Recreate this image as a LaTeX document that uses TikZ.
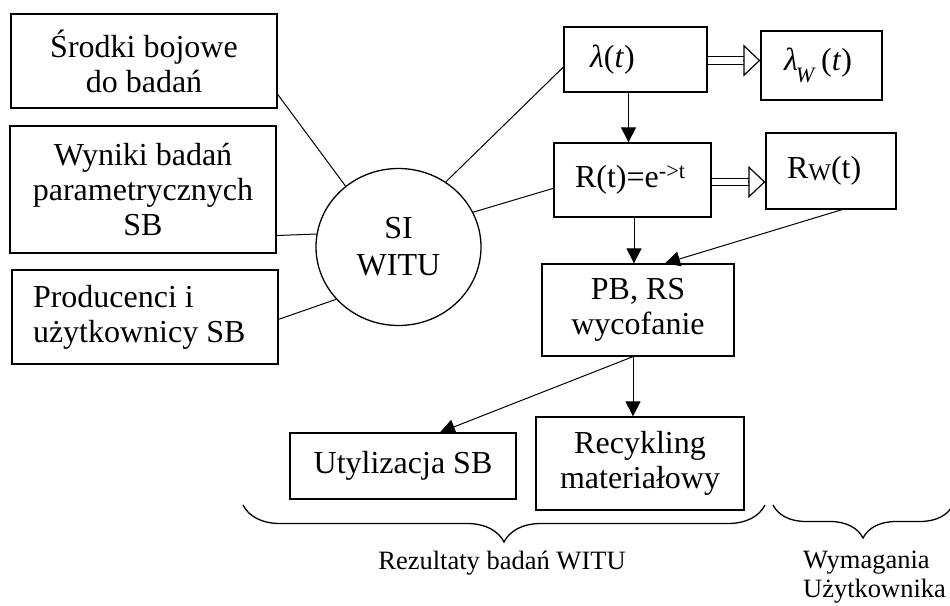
\documentclass[tikz,border=0pt]{standalone}
\usepackage{fontspec}
\setmainfont{Liberation Serif}
\usepackage{tikz}
\usetikzlibrary{shapes.geometric,arrows.meta,decorations.pathreplacing}
\tikzstyle{blok} = [draw,rectangle,line width=1.3pt,inner sep=0pt,align=center,font=\fontsize{32}{35}\selectfont]
\tikzstyle{blokl} = [blok,align=flush left]
\tikzstyle{linia} = [line width=1pt]
\tikzstyle{strzalka} = [line width=1pt,->,>={Triangle[length=15pt,width=15pt]}]
\tikzstyle{podwojna} = [line width=1.2pt,double,double distance=6.5pt,shorten >=16pt]
\tikzstyle{grot} = [line width=1.2pt,-{Triangle[open,length=17pt,width=32pt]}]
\tikzstyle{klamra} = [line width=1.3pt,decorate,decoration={brace,mirror,amplitude=37pt}]
\tikzstyle{opis} = [inner sep=0pt,font=\fontsize{26.5}{29}\selectfont]

\begin{document}
\begin{tikzpicture}[x=1pt,y=-1pt]
                        \useasboundingbox (0,0) rectangle (950,605);
                        % wejscia
                        \node[blok,minimum width=266pt,minimum height=94pt] (srodki) at (144,61) {Środki bojowe\\do badań};
                        \node[blok,minimum width=266pt,minimum height=127pt] (wyniki) at (143,189.5) {Wyniki badań\\parametrycznych\\SB};
                        \node[blokl,minimum width=266pt,minimum height=94pt,text width=224pt,inner xsep=21pt] (producenci) at (145,317) {Producenci i\\użytkownicy SB};
                        \node[draw,ellipse,line width=1.3pt,minimum width=165pt,minimum height=157pt,inner sep=0pt,
                            align=center,font=\fontsize{32}{37}\selectfont] (siwitu) at (398.5,247) {SI\\WITU};
                        % niezawodnosc
                        \node[blokl,minimum width=143pt,minimum height=65pt,text width=91pt,inner xsep=26pt] (lambda) at (635.5,59.5) {\textit{λ}(\textit{t})};
                        \node[blokl,minimum width=121pt,minimum height=69pt,text width=75pt,inner xsep=23pt] (lambdaw) at (821.5,65.5)
                            {\textit{λ}\kern-2pt\raisebox{-12pt}{\fontsize{22}{22}\selectfont\textit{W}}\,(\textit{t})};
                        \node[blokl,minimum width=157pt,minimum height=74pt,text width=115pt,inner xsep=21pt] (rt) at (632.5,180) {R(t)=e\textsuperscript{->t}};
                        \node[blokl,minimum width=130pt,minimum height=76pt,text width=88pt,inner xsep=21pt] (rw) at (831,171)
                            {\raisebox{6pt}{R\raisebox{-1.5pt}{\fontsize{24}{24}\selectfont W}(t)}};
                        % wyniki
                        \node[blok,minimum width=192pt,minimum height=92pt] (pb) at (638,310) {PB, RS\\wycofanie};
                        \node[blok,minimum width=226pt,minimum height=66pt] (utylizacja) at (403,466) {Utylizacja SB};
                        \node[blok,minimum width=208pt,minimum height=93pt] (recykling) at (640,463.5) {Recykling\\materiałowy};

                        \draw[linia] (srodki.-14) -- (siwitu.131);
                        \draw[linia] (wyniki.-19) -- (siwitu.171);
                        \draw[linia] (producenci.-1) -- (siwitu.220);
                        \draw[linia] (siwitu.54) -- (lambda.186);
                        \draw[linia] (siwitu.25) -- (rt.186);

                        \draw[podwojna] ([yshift=-1pt]lambda.east) -- ([yshift=-1pt]lambda.east -| lambdaw.west);
                        \draw[grot] ([yshift=-1pt,xshift=-17pt]lambda.east -| lambdaw.west) -- ([yshift=-1pt]lambda.east -| lambdaw.west);
                        \draw[podwojna] ([yshift=-2pt]rt.east) -- ([yshift=-2pt]rt.east -| rw.west);
                        \draw[grot] ([yshift=-2pt,xshift=-17pt]rt.east -| rw.west) -- ([yshift=-2pt]rt.east -| rw.west);
                        \draw[strzalka] ([xshift=-7pt]lambda.south) -- ([xshift=-7pt]lambda.south |- rt.north);
                        \draw[strzalka] ([xshift=1.5pt]rt.south) -- ([xshift=1.5pt]rt.south |- pb.north);
                        \draw[strzalka] ([xshift=11pt]rw.south) -- ([xshift=27pt]pb.north);
                        \draw[strzalka] ([xshift=-5pt]pb.south) -- ([xshift=-5pt]pb.south |- recykling.north);
                        \draw[strzalka] ([xshift=-5pt]pb.south) -- ([xshift=37pt]utylizacja.north);

                        % klamry
                        \coordinate (k1a) at (243,505);
                        \coordinate (k1b) at (765,505);
                        \coordinate (k2a) at (773,505);
                        \coordinate (k2b) at (953,505);
                        \draw[klamra] (k1a) -- (k1b);
                        \draw[klamra,decoration={amplitude=33pt}] (k2a) -- (k2b);
                        \node[opis] (rezultaty) at (502,563) {Rezultaty badań WITU};
                        \node[opis,anchor=west,align=left] (wymagania) at (803,577) {Wymagania\\Użytkownika};
                    \end{tikzpicture}
\end{document}
